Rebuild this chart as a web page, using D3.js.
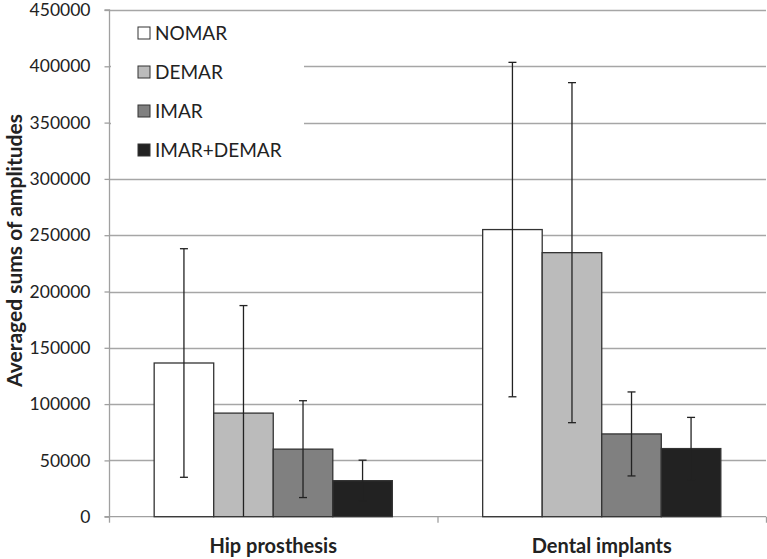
<!DOCTYPE html>
<html><head><meta charset="utf-8">
<script src="https://cdn.jsdelivr.net/npm/d3@7"></script>
<style>body{margin:0;background:#fff;} svg{display:block;font-family:Lato, "Open Sans", sans-serif;}</style>
</head><body>
<svg id="c" width="767" height="559"></svg>
<script>
const categories = ["Hip prosthesis", "Dental implants"];
const seriesNames = ["NOMAR", "DEMAR", "IMAR", "IMAR+DEMAR"];
const NOMAR = [136500, 255000];
const DEMAR = [92000, 234500];
const IMAR = [60000, 73500];
const IMARDEMAR = [32000, 60500];
const NOMAR_sd = [101500, 148500];
const DEMAR_sd = [95500, 151000];
const IMAR_sd = [43000, 37300];
const IMARDEMAR_sd = [18200, 27700];
const yTicks = [0, 50000, 100000, 150000, 200000, 250000, 300000, 350000, 400000, 450000];
const colors = ["#ffffff", "#bbbbbb", "#808080", "#222222"];

const values = [NOMAR, DEMAR, IMAR, IMARDEMAR];
const sds = [NOMAR_sd, DEMAR_sd, IMAR_sd, IMARDEMAR_sd];

const svg = d3.select("#c");
const mL = 109, mR = 766, mT = 10, mB = 516.7;
const y = d3.scaleLinear().domain([0, 450000]).range([mB, mT]);
const x0 = d3.scaleBand().domain(categories).range([mL, mR]).padding(0);
const groupW = x0.bandwidth() * 0.725;
const x1 = d3.scaleBand().domain(seriesNames).range([0, groupW]).padding(0);

// gridlines
svg.append("g").selectAll("line").data(yTicks.slice(1)).join("line")
  .attr("x1", mL).attr("x2", mR)
  .attr("y1", d => Math.round(y(d)) + 0.5).attr("y2", d => Math.round(y(d)) + 0.5)
  .attr("stroke", "#a6a6a6").attr("stroke-width", 1.3);

// y axis
const yAxis = d3.axisLeft(y).tickValues(yTicks).tickSize(5).tickPadding(14).tickFormat(d3.format("d"));
const ga = svg.append("g").attr("transform", `translate(${mL + 0.5},0)`).call(yAxis);
ga.select(".domain").attr("stroke", "#a0a0a0").attr("stroke-width", 1.3).attr("d", `M-5,${mT}H0V${mB}H-5`);
ga.selectAll(".tick line").attr("stroke", "#a0a0a0").attr("stroke-width", 1.3);
ga.selectAll(".tick text").attr("font-size", 17.5).attr("fill", "#222").attr("font-family", "Lato, sans-serif");

// x axis
const xa = svg.append("g");
xa.append("line").attr("x1", mL).attr("x2", mR).attr("y1", mB).attr("y2", mB).attr("stroke", "#a0a0a0").attr("stroke-width", 1.3);
const sepX = [mL, x0(categories[1]), mR];
xa.selectAll("line.sep").data(sepX).join("line").attr("class", "sep")
  .attr("x1", d => d + 0.5).attr("x2", d => d + 0.5).attr("y1", mB).attr("y2", mB + 6)
  .attr("stroke", "#a0a0a0").attr("stroke-width", 1.3);
xa.selectAll("text").data(categories).join("text")
  .attr("x", d => x0(d) + x0.bandwidth() / 2).attr("y", 553)
  .attr("text-anchor", "middle").attr("font-weight", "bold").attr("font-size", 20).attr("fill", "#222")
  .text(d => d);

// legend box background
svg.append("rect").attr("x", mL + 2).attr("y", 16).attr("width", 193).attr("height", 152).attr("fill", "#fff");

// bars
const groups = svg.append("g").selectAll("g").data(categories).join("g")
  .attr("transform", d => `translate(${x0(d) + (x0.bandwidth() - groupW) / 2},0)`);
groups.each(function(cat, ci) {
  const g = d3.select(this);
  seriesNames.forEach((s, si) => {
    const v = values[si][ci];
    g.append("rect").attr("x", x1(s)).attr("y", y(v)).attr("width", x1.bandwidth()).attr("height", y(0) - y(v))
      .attr("fill", colors[si]).attr("stroke", "#333").attr("stroke-width", 1.3);
  });
  seriesNames.forEach((s, si) => {
    const v = values[si][ci], sd = sds[si][ci];
    const cx = x1(s) + x1.bandwidth() / 2;
    const hi = v + sd, lo = Math.max(0, v - sd);
    g.append("line").attr("x1", cx).attr("x2", cx).attr("y1", y(hi)).attr("y2", y(lo)).attr("stroke", "#222").attr("stroke-width", 1.3);
    g.append("line").attr("x1", cx - 4).attr("x2", cx + 4).attr("y1", y(hi)).attr("y2", y(hi)).attr("stroke", "#222").attr("stroke-width", 1.3);
    if (v - sd > 0) g.append("line").attr("x1", cx - 4).attr("x2", cx + 4).attr("y1", y(lo)).attr("y2", y(lo)).attr("stroke", "#222").attr("stroke-width", 1.3);
  });
});

// legend
const lg = svg.append("g").selectAll("g").data(seriesNames).join("g")
  .attr("transform", (d, i) => `translate(138,${33 + i * 39})`);
lg.append("rect").attr("x", 0).attr("y", -6).attr("width", 12).attr("height", 12)
  .attr("fill", (d, i) => colors[i]).attr("stroke", "#333").attr("stroke-width", 1);
lg.append("text").attr("x", 17).attr("y", 7).attr("font-size", 19).attr("fill", "#222").text(d => d);

// y title
svg.append("text").attr("transform", `translate(22,250.5) rotate(-90)`)
  .attr("text-anchor", "middle").attr("font-weight", "bold").attr("font-size", 21).attr("fill", "#222")
  .text("Averaged sums of amplitudes");
</script>
</body></html>
